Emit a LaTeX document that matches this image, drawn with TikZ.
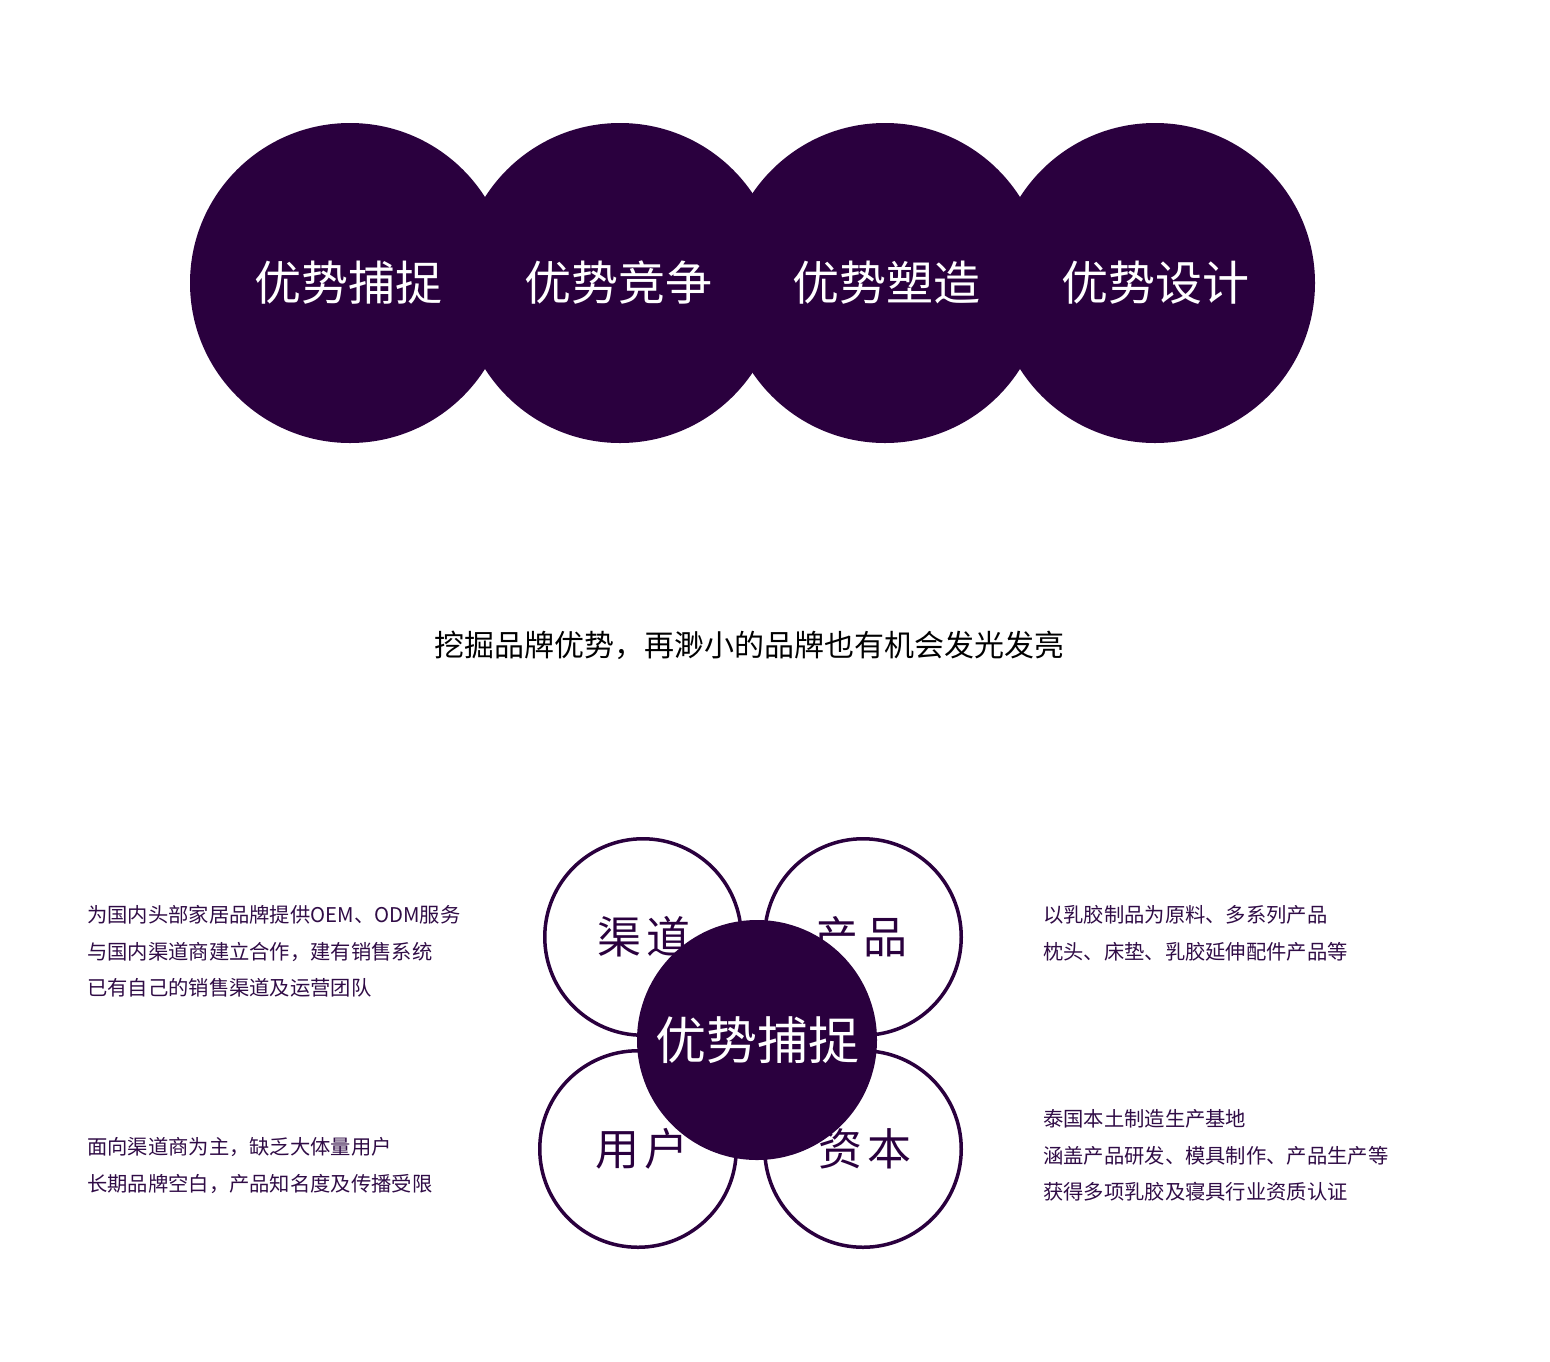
\documentclass[tikz,border=0pt]{standalone}
\usepackage{fontspec}
\setmainfont{Noto Sans CJK SC}
\definecolor{deep}{RGB}{42,0,62}
\definecolor{sidetxt}{RGB}{48,12,70}
\begin{document}
\begin{tikzpicture}[x=1pt,y=-1pt,
  bigdisc/.style={circle,fill=deep,minimum size=320pt,inner sep=0pt},
  toplabel/.style={inner sep=0pt,text=white,font=\fontsize{47}{51}\selectfont},
  ring/.style={circle,draw=deep,line width=3.5pt,fill=white,minimum size=196.5pt,inner sep=0pt,text=deep,font=\fontsize{44}{48}\selectfont},
  hub/.style={circle,fill=deep,minimum size=240pt,inner sep=0pt,text=white,font=\fontsize{51}{55}\selectfont},
  sidenote/.style={anchor=west,inner sep=0pt,text=sidetxt,font=\fontsize{20.3}{22}\selectfont},
  slogan/.style={inner sep=0pt,text=black,font=\fontsize{30}{34}\selectfont}]
\useasboundingbox (0,0) rectangle (1550,1361);
% top row
\node[bigdisc] (c1) at (350,283) {};
\node[bigdisc] (c2) at (620,283) {};
\node[bigdisc] (c3) at (885,283) {};
\node[bigdisc] (c4) at (1155,283) {};
\node[toplabel] (t1) at (348,283) {优势捕捉};
\node[toplabel] (t2) at (618,283) {优势竞争};
\node[toplabel] (t3) at (886,283) {优势塑造};
\node[toplabel] (t4) at (1155,283) {优势设计};
% slogan
\node[slogan] (s) at (749,645) {挖掘品牌优势，再渺小的品牌也有机会发光发亮};
% bottom rings
\node[ring] (r1) at (643,937) {};
\node[ring] (r2) at (863,937) {};
\node[ring] (r3) at (638,1149) {};
\node[ring] (r4) at (863,1149) {};
\node[inner sep=0pt,text=deep,font=\fontsize{44}{48}\selectfont] (q1) at (644,937) {渠\hspace{6pt}道};
\node[inner sep=0pt,text=deep,font=\fontsize{44}{48}\selectfont] (q2) at (861,937) {产\hspace{6pt}品};
\node[inner sep=0pt,text=deep,font=\fontsize{44}{48}\selectfont] (q3) at (642,1149) {用\hspace{6pt}户};
\node[inner sep=0pt,text=deep,font=\fontsize{44}{48}\selectfont] (q4) at (865,1149) {资\hspace{6pt}本};
\node[hub] (h) at (757,1040) {优势捕捉};
% side notes
\node[sidenote] (l1) at (87,915) {为国内头部家居品牌提供OEM、ODM服务};
\node[sidenote] (l2) at (87,952) {与国内渠道商建立合作，建有销售系统};
\node[sidenote] (l3) at (87,988) {已有自己的销售渠道及运营团队};
\node[sidenote] (l4) at (87,1147) {面向渠道商为主，缺乏大体量用户};
\node[sidenote] (l5) at (87,1184) {长期品牌空白，产品知名度及传播受限};
\node[sidenote] (p1) at (1043,915) {以乳胶制品为原料、多系列产品};
\node[sidenote] (p2) at (1043,952) {枕头、床垫、乳胶延伸配件产品等};
\node[sidenote] (p3) at (1043,1119) {泰国本土制造生产基地};
\node[sidenote] (p4) at (1043,1156) {涵盖产品研发、模具制作、产品生产等};
\node[sidenote] (p5) at (1043,1192) {获得多项乳胶及寝具行业资质认证};
\end{tikzpicture}
\end{document}
